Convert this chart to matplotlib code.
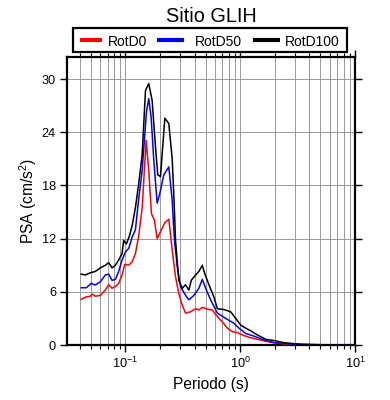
import numpy as np
import matplotlib
matplotlib.use('Agg')
import matplotlib.pyplot as plt
from matplotlib.lines import Line2D
from matplotlib.patches import Rectangle
from matplotlib.ticker import LogLocator, NullFormatter, MultipleLocator

plt.rcParams['font.family'] = ['Liberation Sans', 'DejaVu Sans']
plt.rcParams['mathtext.fontset'] = 'custom'
plt.rcParams['mathtext.rm'] = 'Liberation Sans'

# Periods (s) and PSA (cm/s^2)
t_d0 = [0.0413, 0.0448, 0.0495, 0.0512, 0.0547, 0.0605, 0.0669, 0.0715, 0.0765, 0.0818,
        0.0874, 0.0935, 0.0986, 0.1069, 0.1146, 0.1223, 0.1306, 0.140, 0.1517, 0.1597,
        0.1687, 0.179, 0.189, 0.2022, 0.2205, 0.2388, 0.2558, 0.2733, 0.292, 0.3128,
        0.3342, 0.3698, 0.4087, 0.4366, 0.4675, 0.5175, 0.5718, 0.6324, 0.6993, 0.773,
        0.855, 0.946, 1.045, 1.194, 1.413, 1.729, 2.413, 3.375, 5.05, 10.0]
psa_d0 = [5.15, 5.4, 5.5, 5.75, 5.5, 5.6, 6.2, 6.8, 6.4, 6.6,
          6.95, 7.9, 9.1, 9.0, 9.4, 10.3, 12.3, 15.5, 23.1, 19.7,
          14.8, 14.1, 12.0, 12.8, 13.8, 14.2, 10.7, 7.7, 5.8, 4.5,
          3.6, 3.75, 4.1, 3.95, 4.25, 4.05, 3.95, 3.2, 2.6, 1.9,
          1.5, 1.4, 1.13, 0.87, 0.64, 0.37, 0.11, 0.04, 0.02, 0.01]

t_d50 = [0.0413, 0.0457, 0.0505, 0.0547, 0.0605, 0.0669, 0.0715, 0.0765, 0.0818, 0.0874,
         0.0935, 0.100, 0.1069, 0.1146, 0.1223, 0.1306, 0.140, 0.1525, 0.1597, 0.1676,
         0.1766, 0.189, 0.1994, 0.2159, 0.2388, 0.2558, 0.261, 0.268, 0.2831, 0.302,
         0.3342, 0.3572, 0.3953, 0.4366, 0.4675, 0.500, 0.5524, 0.6324, 0.747, 0.883,
         0.976, 1.117, 1.32, 1.614, 1.974, 2.951, 5.05, 10.0]
psa_d50 = [6.46, 6.46, 6.96, 6.76, 7.14, 7.9, 8.0, 7.3, 7.4, 8.3,
           9.6, 10.5, 10.9, 12.2, 13.0, 16.5, 19.7, 26.3, 27.8, 25.7,
           20.9, 16.0, 17.1, 19.2, 20.1, 16.3, 14.1, 11.8, 8.8, 6.6,
           5.6, 5.1, 5.6, 6.4, 7.4, 6.4, 5.1, 3.6, 3.0, 2.45,
           1.9, 1.3, 1.0, 0.56, 0.26, 0.08, 0.03, 0.01]

t_d100 = [0.0413, 0.0448, 0.0495, 0.0547, 0.0605, 0.0669, 0.0715, 0.0765, 0.0818, 0.0874,
          0.0935, 0.0966, 0.102, 0.109, 0.1146, 0.1223, 0.1306, 0.140, 0.1496, 0.1597,
          0.171, 0.1828, 0.1914, 0.2022, 0.2205, 0.2388, 0.2558, 0.2653, 0.2733, 0.292,
          0.3128, 0.3342, 0.3572, 0.375, 0.4087, 0.4366, 0.4675, 0.4897, 0.5343, 0.5907,
          0.6324, 0.7225, 0.826, 0.914, 1.01, 1.117, 1.235, 1.413, 1.671, 1.974,
          2.413, 3.375, 5.05, 10.0]
psa_d100 = [8.0, 7.9, 8.15, 8.3, 8.7, 9.0, 9.3, 8.7, 9.0, 9.6,
            10.3, 11.8, 11.4, 12.4, 13.5, 15.5, 18.2, 21.5, 28.7, 29.5,
            27.6, 22.4, 19.2, 19.0, 25.6, 25.0, 21.0, 16.3, 11.8, 7.3,
            6.4, 6.8, 6.2, 7.3, 7.9, 8.3, 9.0, 8.1, 6.8, 5.4,
            4.1, 4.0, 3.75, 3.0, 2.25, 1.9, 1.6, 1.13, 0.64, 0.5,
            0.26, 0.08, 0.03, 0.01]

labels = ['RotD0', 'RotD50', 'RotD100']
colors = ['#ff0000', '#0000ff', 'black']

W, H = 390, 400
fig = plt.figure(figsize=(3.9, 4.0), dpi=100)
ax = fig.add_axes([67 / W, 1 - 345 / H, 288 / W, 288 / H])

for t, v, lab, c, z in zip([t_d0, t_d50, t_d100], [psa_d0, psa_d50, psa_d100],
                           labels, colors, [3, 4, 5]):
    ax.plot(t, v, color=c, lw=1.1, label=lab, zorder=z)

ax.set_xscale('log')
ax.set_xlim(0.031, 10)
ax.set_ylim(0, 32.5)
ax.yaxis.set_major_locator(MultipleLocator(6))
ax.xaxis.set_major_locator(LogLocator(base=10))
ax.xaxis.set_minor_locator(LogLocator(base=10, subs=np.arange(2, 10)))
ax.xaxis.set_minor_formatter(NullFormatter())

ax.grid(True, which='both', axis='x', color='#999999', lw=0.7)
ax.grid(True, which='major', axis='y', color='#999999', lw=0.7)
ax.set_axisbelow(True)

for s in ax.spines.values():
    s.set_linewidth(1.6)
ax.tick_params(which='major', direction='out', length=5, width=1.0, labelsize=9.2,
               top=True, right=True, pad=3)
ax.tick_params(which='minor', direction='out', length=3, width=0.8, top=True)

ax.set_xlabel('Periodo (s)', fontsize=11.2, labelpad=4)
ax.set_ylabel('PSA (cm/s$^2$)', fontsize=11.2, labelpad=2)

fig.text(211 / W, 1 - 21.5 / H, 'Sitio GLIH', ha='center', va='baseline', fontsize=14.3)

# legend box drawn by hand so the spacing follows the reference
fig.add_artist(Rectangle((73 / W, 1 - 52 / H), 274 / W, 24 / H, transform=fig.transFigure,
                         facecolor='white', edgecolor='black', lw=1.6))
handle_x = [(80, 102), (157, 184), (253, 280)]
text_x = [108, 195, 285]
ly = 1 - 40 / H
for (x0, x1), tx, lab, c in zip(handle_x, text_x, labels, colors):
    fig.add_artist(Line2D([x0 / W, x1 / W], [ly, ly], transform=fig.transFigure,
                          color=c, lw=3, solid_capstyle='butt'))
    fig.text(tx / W, ly, lab, ha='left', va='center_baseline', fontsize=10)

plt.savefig('out.png', dpi=100)
